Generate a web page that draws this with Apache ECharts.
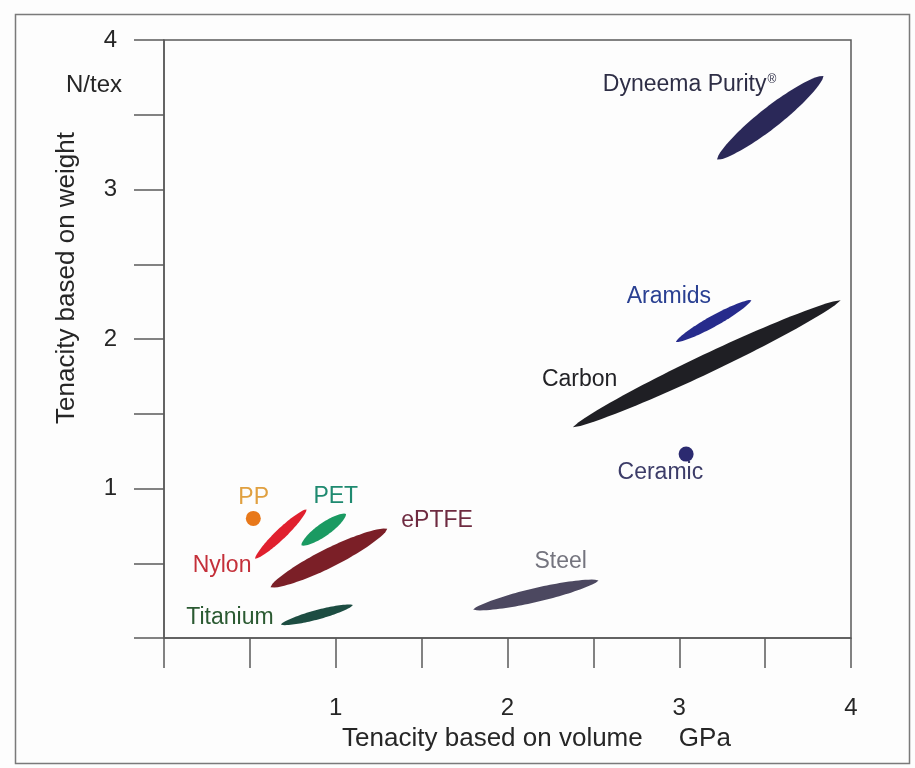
<!DOCTYPE html>
<html>
<head>
<meta charset="utf-8">
<script src="https://cdn.jsdelivr.net/npm/echarts@6/dist/echarts.min.js"></script>
<style>
  html, body { margin: 0; padding: 0; background: #fdfdfd; }
  #chart { width: 915px; height: 768px; }
</style>
</head>
<body>
<div id="chart"></div>
<script>
// material ranges: ends of each band, [x1, y1, x2, y2] (GPa, N/tex)
const bandNames = ['Dyneema Purity', 'Aramids', 'Carbon', 'Steel', 'Titanium', 'ePTFE', 'Nylon', 'PET'];
const bandFrom = [[3.22, 3.20], [2.98, 1.98], [2.38, 1.41], [1.80, 0.19], [0.68, 0.09], [0.62, 0.34], [0.53, 0.53], [0.80, 0.62]];
const bandTo = [[3.84, 3.76], [3.42, 2.26], [3.94, 2.26], [2.53, 0.385], [1.10, 0.22], [1.30, 0.73], [0.83, 0.86], [1.06, 0.83]];

// single-point materials
const dotNames = ['PP', 'Ceramic'];
const dotValues = [[0.52, 0.80], [3.04, 1.23]];

// label anchors (data coords)
const labelNames = ['Dyneema Purity', 'Aramids', 'Carbon', 'Ceramic', 'Steel', 'ePTFE', 'PET', 'PP', 'Nylon', 'Titanium'];
const labelAt = [[3.06, 3.70], [2.94, 2.28], [2.42, 1.73], [2.89, 1.105], [2.31, 0.51], [1.59, 0.785], [1.0, 0.944], [0.522, 0.94], [0.338, 0.487], [0.384, 0.138]];

const xTicks = [1, 2, 3, 4];
const yTicks = [1, 2, 3, 4];

// looks
const bandColor = ['#2a2858', '#262b8c', '#1f1f24', '#4c4860', '#1d4d42', '#7b1f27', '#e0202e', '#1a9a62'];
const bandWidth = [21, 11, 19, 14, 9.5, 19, 10.5, 13];
const dotColor = ['#e8781a', '#2b2a70'];
const labelColor = {
    'Dyneema Purity': '#2e2e46', 'Aramids': '#2a4092', 'Carbon': '#222226', 'Ceramic': '#3c3c68',
    'Steel': '#74747e', 'ePTFE': '#6e2a40', 'PET': '#1f8a70', 'PP': '#e0a040',
    'Nylon': '#c4303a', 'Titanium': '#2b5a32'
};

const FONT = '"Liberation Sans", Arial, sans-serif';
const axisGray = '#5a5a5a';

const chart = echarts.init(document.getElementById('chart'));

function bandShape(params, api) {
    const i = api.value(4);
    const p1 = api.coord([api.value(0), api.value(1)]);
    const p2 = api.coord([api.value(2), api.value(3)]);
    const mx = (p1[0] + p2[0]) / 2, my = (p1[1] + p2[1]) / 2;
    const dx = (p2[0] - p1[0]) / 2, dy = (p2[1] - p1[1]) / 2;
    const len = Math.sqrt(dx * dx + dy * dy);
    const nx = -dy / len, ny = dx / len;
    const hw = bandWidth[i] / 2;
    const n = 40;
    const top = [], bot = [];
    for (let k = 0; k <= n; k++) {
        const t = -1 + 2 * k / n;
        const w = hw * Math.pow(1 - t * t, 0.65);
        const cx = mx + t * dx, cy = my + t * dy;
        top.push([cx + nx * w, cy + ny * w]);
        bot.push([cx - nx * w, cy - ny * w]);
    }
    return {
        type: 'polygon',
        shape: { points: top.concat(bot.reverse()) },
        style: { fill: bandColor[i], stroke: null }
    };
}

const bandData = bandNames.map((n, i) => [bandFrom[i][0], bandFrom[i][1], bandTo[i][0], bandTo[i][1], i]);

const dotData = dotNames.map((n, i) => ({
    name: n, value: dotValues[i], itemStyle: { color: dotColor[i], opacity: 1 }
}));

const labelData = labelNames.map((n, i) => ({
    name: n,
    value: labelAt[i],
    label: {
        show: true,
        position: 'inside',
        formatter: n === 'Dyneema Purity' ? '{a|Dyneema Purity}{r|®}' : n,
        color: labelColor[n],
        fontSize: 23,
        fontFamily: FONT,
        rich: {
            a: { fontSize: 23, fontFamily: FONT, color: labelColor[n] },
            r: { fontSize: 12, fontFamily: FONT, color: labelColor[n], verticalAlign: 'top', padding: [0, 0, 10, 1] }
        }
    }
}));

chart.setOption({
    backgroundColor: '#fdfdfd',
    animation: false,
    grid: {
        left: 164, right: 64, top: 40, bottom: 130,
        show: true, borderColor: axisGray, borderWidth: 1.5
    },
    graphic: [
        {
            type: 'rect', left: 13, top: 12, z: -1,
            shape: { width: 894, height: 749 },
            style: { fill: null, stroke: '#7a7a7a', lineWidth: 1.5 }
        },
        {
            type: 'text', left: 66, top: 73,
            style: { text: 'N/tex', fontSize: 24, fontFamily: FONT, fill: '#262626' }
        }
    ],
    xAxis: {
        type: 'value', min: 0, max: 4, interval: 0.5,
        name: 'Tenacity based on volume     GPa',
        nameLocation: 'middle', nameGap: 88,
        nameTextStyle: { fontSize: 26, fontFamily: FONT, color: '#262626', padding: [0, 0, 0, 58] },
        axisLine: { show: true, lineStyle: { color: axisGray, width: 1.5 } },
        axisTick: { show: true, length: 30, lineStyle: { color: axisGray, width: 1.5 } },
        splitLine: { show: false },
        axisLabel: {
            margin: 58, fontSize: 24, fontFamily: FONT, color: '#262626',
            formatter: v => xTicks.indexOf(v) >= 0 ? String(v) : ''
        }
    },
    yAxis: {
        type: 'value', min: 0, max: 4, interval: 0.5,
        name: 'Tenacity based on weight',
        nameLocation: 'middle', nameGap: 84, nameRotate: 90,
        nameTextStyle: { fontSize: 26, fontFamily: FONT, color: '#262626', padding: [0, 0, 0, 122] },
        axisLine: { show: true, lineStyle: { color: axisGray, width: 1.5 } },
        axisTick: { show: true, length: 30, lineStyle: { color: axisGray, width: 1.5 } },
        splitLine: { show: false },
        axisLabel: {
            margin: 47, fontSize: 24, fontFamily: FONT, color: '#262626',
            formatter: v => yTicks.indexOf(v) >= 0 ? String(v) : ''
        }
    },
    series: [
        {
            type: 'custom',
            renderItem: bandShape,
            data: bandData,
            encode: { x: [0, 2], y: [1, 3] },
            silent: true
        },
        {
            type: 'scatter',
            symbol: 'circle',
            symbolSize: 15,
            itemStyle: { opacity: 1 },
            data: dotData,
            silent: true
        },
        {
            type: 'scatter',
            symbolSize: 0,
            itemStyle: { opacity: 1 },
            data: labelData,
            silent: true,
            z: 5
        }
    ]
});
</script>
</body>
</html>
